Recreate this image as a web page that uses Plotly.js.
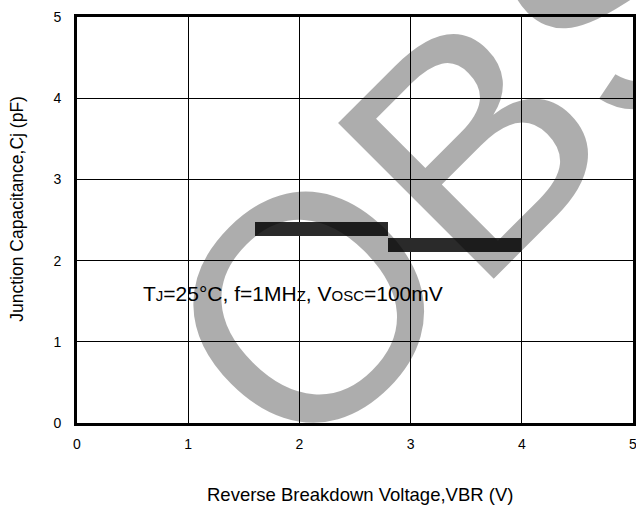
<!DOCTYPE html>
<html>
<head>
<meta charset="utf-8">
<script src="https://cdn.plot.ly/plotly-3.0.1.min.js"></script>
<style>html,body{margin:0;padding:0;background:#fff;}</style>
</head>
<body>
<div id="chart" style="width:636px;height:508px;"></div>
<script>
// Data
const vbrStart = [1.6, 2.8];      // reverse breakdown voltage, segment start (V)
const vbrEnd   = [2.8, 4.0];      // segment end (V)
const cjLow    = [2.30, 2.10];    // junction capacitance band, low (pF)
const cjHigh   = [2.48, 2.28];    // junction capacitance band, high (pF)
const xTicks   = [0, 1, 2, 3, 4, 5];
const yTicks   = [0, 1, 2, 3, 4, 5];

const FONT = 'Liberation Sans, Arial, sans-serif';

const trace = {
  type: 'bar',
  orientation: 'h',
  base: vbrStart,
  x: vbrStart.map((s, i) => vbrEnd[i] - s),
  y: cjLow.map((l, i) => (l + cjHigh[i]) / 2),
  width: cjLow.map((l, i) => cjHigh[i] - l),
  marker: {color: '#2a2a2a', line: {width: 0}},
  hoverinfo: 'skip',
  showlegend: false
};

const axisCommon = {
  range: [0, 5],
  showgrid: true,
  gridcolor: '#000',
  gridwidth: 1,
  zeroline: false,
  showline: true,
  linecolor: '#000',
  linewidth: 3,
  mirror: true,
  ticks: '',
  ticklabeloverflow: 'allow',
  tickfont: {family: FONT, size: 14, color: '#000'},
  fixedrange: true
};

const layout = {
  width: 636,
  height: 508,
  margin: {l: 77, r: 3, t: 17, b: 85},
  paper_bgcolor: '#fff',
  plot_bgcolor: '#fff',
  font: {family: FONT, color: '#000'},
  xaxis: Object.assign({}, axisCommon, {
    tickvals: xTicks, ticktext: xTicks.map(String), ticklabelstandoff: 6
  }),
  yaxis: Object.assign({}, axisCommon, {
    tickvals: yTicks, ticktext: yTicks.map(String), ticklabelstandoff: 10
  }),
  bargap: 0,
  annotations: [
    {
      text: 'T<span style="font-size:15px">J</span>=25°C, f=1MH<span style="font-size:15px">Z</span>, V<span style="font-size:15px">OSC</span>=100mV',
      xref: 'x', yref: 'y', x: 1.94, y: 1.6,
      xanchor: 'center', yanchor: 'middle',
      showarrow: false,
      font: {family: FONT, size: 21, color: '#000'}
    },
    {
      text: 'Reverse Breakdown Voltage,VBR (V)',
      xref: 'paper', yref: 'paper', x: (360.5 - 77.5) / 555.5, y: (422.7 - 494) / 406,
      xanchor: 'center', yanchor: 'middle',
      showarrow: false,
      font: {family: FONT, size: 18.5, color: '#000'}
    },
    {
      text: 'Junction Capacitance,Cj (pF)',
      xref: 'paper', yref: 'paper', x: (17.5 - 77.5) / 555.5, y: (422.7 - 208.5) / 406,
      xanchor: 'center', yanchor: 'middle',
      textangle: -90,
      showarrow: false,
      font: {family: FONT, size: 17.5, color: '#000'}
    },
    {
      text: 'OBS',
      xref: 'paper', yref: 'paper', x: 0.688, y: 0.657,
      xanchor: 'center', yanchor: 'middle',
      textangle: -45,
      showarrow: false,
      font: {family: FONT, size: 320, color: 'rgba(0,0,0,0.32)'}
    }
  ]
};

Plotly.newPlot('chart', [trace], layout, {displayModeBar: false, staticPlot: true});
</script>
</body>
</html>
